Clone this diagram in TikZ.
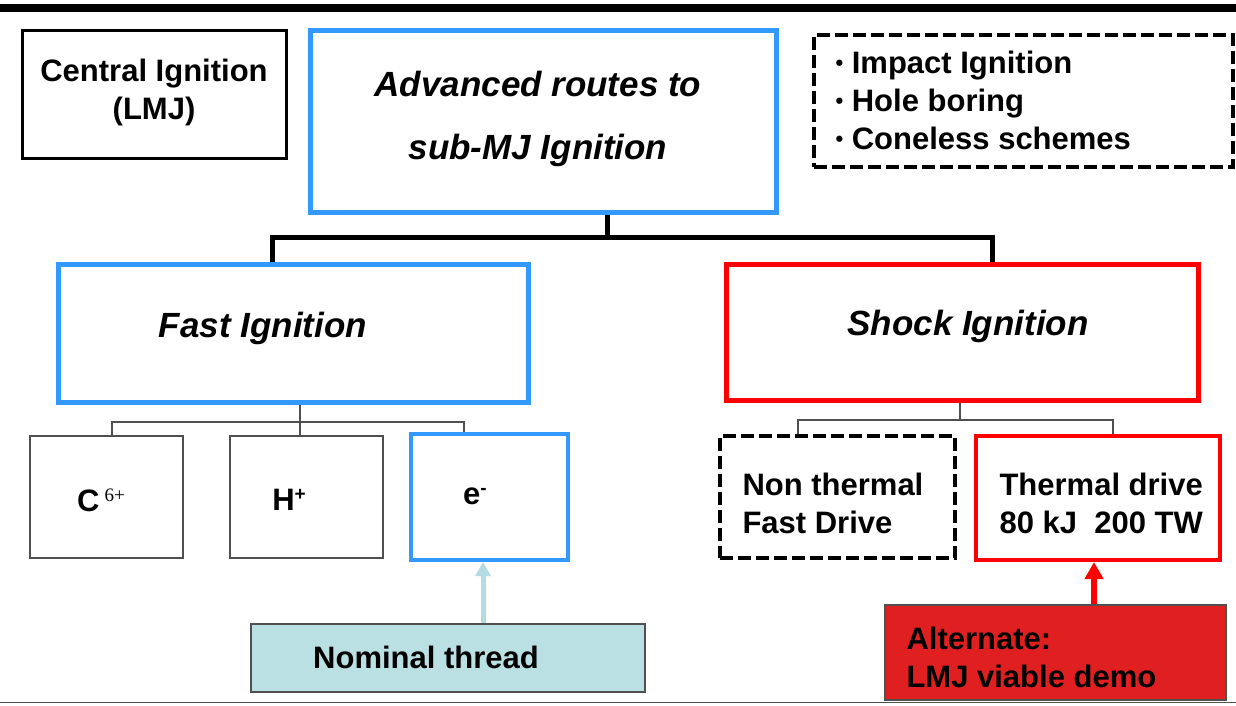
\documentclass[tikz,border=0pt]{standalone}
\usepackage{fontspec}
\setmainfont{Liberation Sans}
\usetikzlibrary{arrows.meta}
\definecolor{bblue}{RGB}{51,153,255}
\definecolor{rred}{RGB}{255,0,0}
\definecolor{nomfill}{RGB}{187,224,227}
\definecolor{nomarrow}{RGB}{178,220,226}
\definecolor{altfill}{RGB}{224,32,32}
\definecolor{dgray}{RGB}{80,80,80}
\begin{document}
\begin{tikzpicture}[x=1pt,y=-1pt,
  box/.style={draw,rectangle,inner sep=0pt},
  body/.style={font=\fontsize{31}{38}\selectfont\bfseries},
  head/.style={font=\fontsize{35}{63}\selectfont\bfseries\itshape},
  bus/.style={line width=5pt,black},
  twig/.style={line width=1.5pt,dgray},
  dashbox/.style={box,line width=3.5pt,dash pattern=on 13pt off 5pt}]
\useasboundingbox (0,0) rectangle (1236,705);
\fill[black] (0,4) rectangle (1236,12);
\draw[dgray,line width=1.5pt] (0,702.5) -- (1236,702.5);

% top row
\node[box,line width=3pt,minimum width=264pt,minimum height=128pt] (ci) at (154,94) {};
\node[body,align=center] (citxt) at (154,92) {Central Ignition\\(LMJ)};
\node[box,draw=bblue,line width=5pt,minimum width=466pt,minimum height=182pt] (adv) at (543,121) {};
\node[head,align=center] (advtxt) at (538,119) {Advanced routes to\\sub-MJ Ignition};
\node[dashbox,minimum width=419pt,minimum height=132pt] (list) at (1023.5,101) {};
\node[body,align=left,anchor=west] (listtxt) at (832,100)
  {{\fontsize{22}{22}\selectfont\raisebox{3pt}{•}} Impact Ignition\\{\fontsize{22}{22}\selectfont\raisebox{3pt}{•}} Hole boring\\{\fontsize{22}{22}\selectfont\raisebox{3pt}{•}} Coneless schemes};

% second row
\node[box,draw=bblue,line width=5pt,minimum width=470pt,minimum height=138pt] (fast) at (293,333) {};
\node[head] (fasttxt) at (263,328) {Fast Ignition};
\node[box,draw=rred,line width=5pt,minimum width=472pt,minimum height=136pt] (shock) at (962,332) {};
\node[head] (shocktxt) at (968,326) {Shock Ignition};

% third row
\node[box,draw=dgray,line width=1.5pt,minimum width=153pt,minimum height=122pt] (c) at (106.5,497) {};
\node[body] (ctxt) at (101,500) {C\,\raisebox{10pt}{\fontspec{Liberation Serif}\fontsize{19}{19}\selectfont\mdseries 6+}};
\node[box,draw=dgray,line width=1.5pt,minimum width=153pt,minimum height=122pt] (h) at (306.5,497) {};
\node[body] (htxt) at (289,500) {H\raisebox{10pt}{\fontsize{19}{19}\selectfont +}};
\node[box,draw=bblue,line width=4pt,minimum width=157pt,minimum height=126pt] (e) at (489.5,497) {};
\node[body] (etxt) at (475,496) {e\raisebox{10pt}{\fontsize{19}{19}\selectfont -}};
\node[dashbox,minimum width=235pt,minimum height=122pt] (non) at (837.5,497) {};
\node[body,align=left,anchor=west] (nontxt) at (739,503) {Non thermal\\Fast Drive};
\node[box,draw=rred,line width=4pt,minimum width=244pt,minimum height=124pt] (th) at (1098,498) {};
\node[body,align=left,anchor=west] (thtxt) at (996,503) {Thermal drive\\80 kJ\ \ 200 TW};

% bottom row
\node[box,draw=dgray,fill=nomfill,line width=1.5pt,minimum width=394pt,minimum height=68pt] (nom) at (448,658) {};
\node[body] (nomtxt) at (426,657) {Nominal thread};
\node[box,draw=dgray,fill=altfill,line width=1.5pt,minimum width=341pt,minimum height=95pt] (alt) at (1055.5,652.5) {};
\node[body,align=left,anchor=west] (alttxt) at (903,657) {Alternate:\\LMJ viable demo};

% connectors
\coordinate (b1) at (607,237);
\coordinate (b1l) at (272,237);
\coordinate (b1r) at (992,237);
\draw[bus] (adv.south -| b1) -- (b1);
\draw[bus,line join=miter] (fast.north -| b1l) -- (b1l) -- (b1r) -- (shock.north -| b1r);

\coordinate (b2) at (300,422);
\coordinate (b2l) at (112,422);
\coordinate (b2r) at (464,422);
\draw[twig] (fast.south -| b2) -- (h.north -| b2);
\draw[twig] (c.north -| b2l) -- (b2l) -- (b2r) -- (e.north -| b2r);

\coordinate (b3) at (960,420);
\coordinate (b3l) at (798,420);
\coordinate (b3r) at (1113,420);
\draw[twig] (shock.south -| b3) -- (b3);
\draw[twig] (non.north -| b3l) -- (b3l) -- (b3r) -- (th.north -| b3r);

\coordinate (ea) at (483,0);
\draw[nomarrow,line width=5pt,-{Triangle[length=14pt,width=15pt]}] (nom.north -| ea) -- (e.south -| ea);
\coordinate (ta) at (1094,0);
\draw[rred,line width=6pt,-{Triangle[length=17pt,width=18pt]}] (alt.north -| ta) -- (th.south -| ta);
\end{tikzpicture}
\end{document}
